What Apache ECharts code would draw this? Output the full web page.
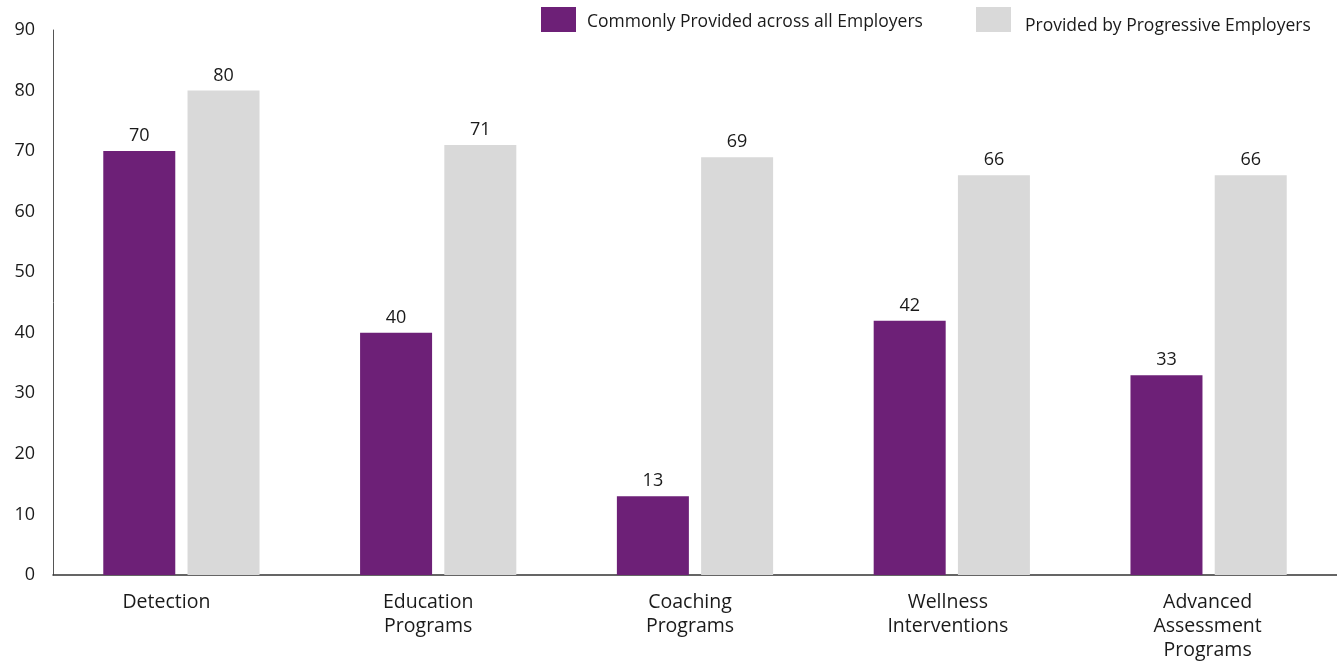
<!DOCTYPE html>
<html>
<head>
<meta charset="utf-8">
<script src="https://cdn.jsdelivr.net/npm/echarts@6/dist/echarts.min.js"></script>
<style>
  html, body { margin: 0; padding: 0; background: #ffffff; }
  #chart { width: 1337px; height: 663px; }
</style>
</head>
<body>
<div id="chart"></div>
<script>
// Workplace programme categories and the share of employers offering each
const categories = ['Detection', 'Education\nPrograms', 'Coaching\nPrograms', 'Wellness\nInterventions', 'Advanced\nAssessment\nPrograms'];
const commonlyProvided = [70, 40, 13, 42, 33];
const progressiveProvided = [80, 71, 69, 66, 66];
const seriesNames = ['Commonly Provided across all Employers', 'Provided by Progressive Employers'];
const yTicks = [0, 10, 20, 30, 40, 50, 60, 70, 80, 90];

// Horizontal nudge (px, negative = left) applied to each category caption
const captionNudge = [-15, -10, -5, -4, -1];

const FONT = '"Open Sans", sans-serif';
const TEXT = '#1a1a1a';

const chart = echarts.init(document.getElementById('chart'), null, { renderer: 'canvas' });

const valueLabel = {
  show: true,
  position: 'top',
  distance: 6,
  color: TEXT,
  fontFamily: FONT,
  fontSize: 18
};

// Legend entry whose text sits a given number of pixels below the swatch centre
function legendEntry(name, left, drop, gap) {
  return {
    data: [name],
    left: left,
    top: 7,
    padding: 0,
    itemWidth: 35,
    itemHeight: 25,
    icon: 'rect',
    formatter: '{t|{name}}',
    textStyle: {
      color: TEXT,
      fontFamily: FONT,
      fontSize: 17.5,
      rich: {
        t: {
          color: TEXT,
          fontFamily: FONT,
          fontSize: 17.5,
          padding: [drop * 2, 0, 0, gap]
        }
      }
    }
  };
}

// Category items carrying their caption nudge as label padding
const categoryItems = categories.map(function (name, i) {
  const n = captionNudge[i];
  return {
    value: name,
    textStyle: { padding: [0, n < 0 ? -2 * n : 0, 0, n > 0 ? 2 * n : 0] }
  };
});

chart.setOption({
  animation: false,
  backgroundColor: '#ffffff',
  legend: [
    legendEntry(seriesNames[0], 541, 3, 6),
    legendEntry(seriesNames[1], 976, 7, 9)
  ],
  grid: {
    left: 53,
    top: 30,
    width: 1290,
    bottom: 88,
    containLabel: false
  },
  xAxis: {
    type: 'category',
    data: categoryItems,
    axisLine: { show: true, lineStyle: { color: '#333333', width: 1.5 } },
    axisTick: { show: false },
    axisLabel: {
      color: TEXT,
      fontFamily: FONT,
      fontSize: 19.5,
      lineHeight: 24,
      margin: 15,
      interval: 0
    }
  },
  yAxis: {
    type: 'value',
    min: yTicks[0],
    max: yTicks[yTicks.length - 1],
    interval: 10,
    axisLine: { show: true, lineStyle: { color: '#555555', width: 1 } },
    axisTick: { show: false },
    splitLine: { show: false },
    axisLabel: {
      color: TEXT,
      fontFamily: FONT,
      fontSize: 18,
      margin: 18
    }
  },
  series: [
    {
      name: seriesNames[0],
      type: 'bar',
      data: commonlyProvided,
      barWidth: 72,
      barGap: '17%',
      itemStyle: { color: '#6d2077' },
      label: valueLabel
    },
    {
      name: seriesNames[1],
      type: 'bar',
      data: progressiveProvided,
      barWidth: 72,
      barGap: '17%',
      itemStyle: { color: '#d9d9d9' },
      label: valueLabel
    }
  ]
});
</script>
</body>
</html>
